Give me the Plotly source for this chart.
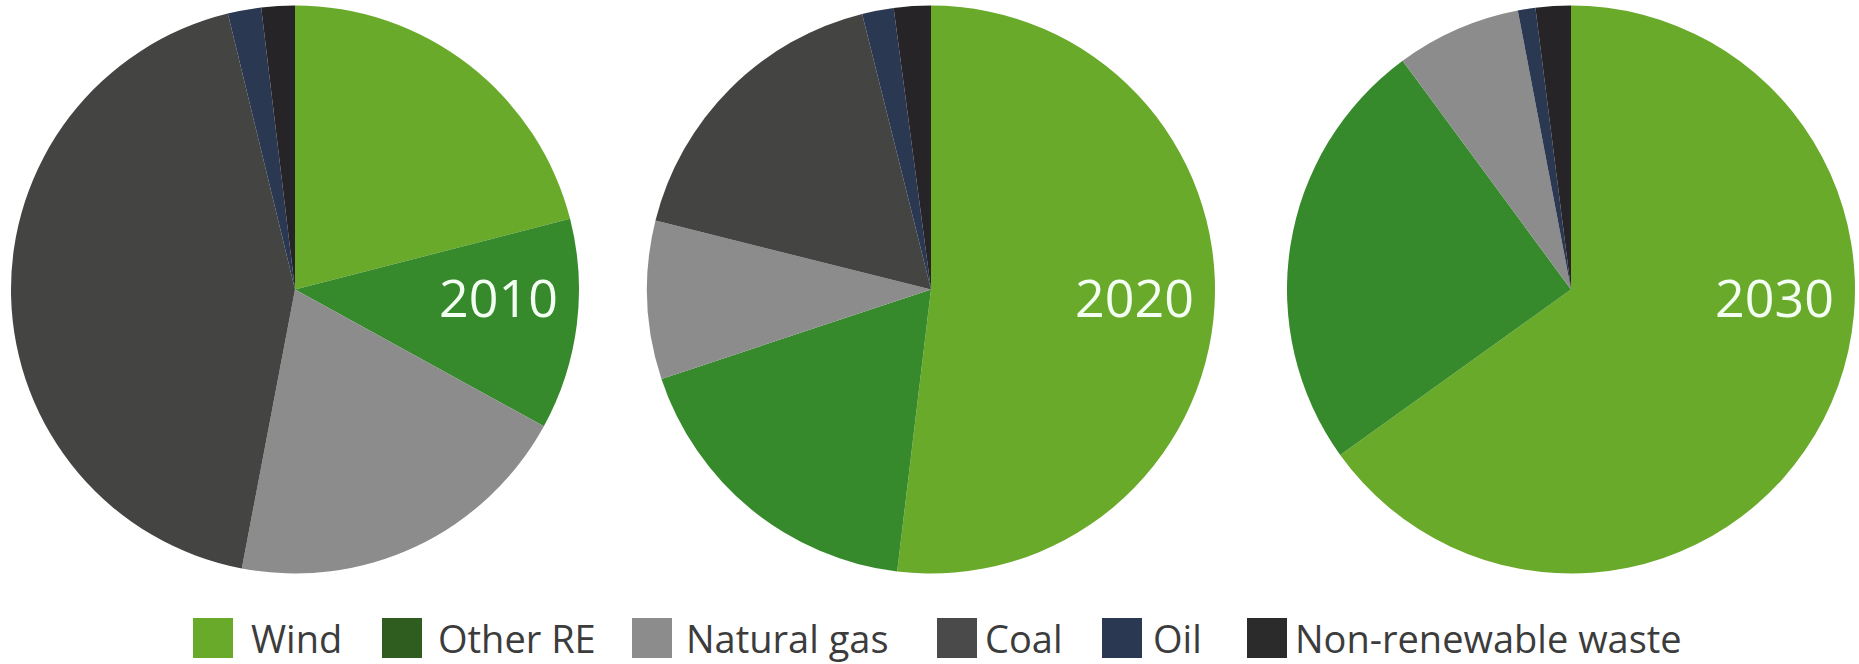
import plotly.graph_objects as go

# Electricity generation mix by source, shares in percent
sources = ["Wind", "Other RE", "Natural gas", "Coal", "Oil", "Non-renewable waste"]
years = ["2010", "2020", "2030"]
share_2010 = [21.0, 12.0, 20.0, 43.2, 1.9, 1.9]
share_2020 = [51.9, 18.0, 9.0, 17.2, 1.8, 2.1]
share_2030 = [65.1, 24.8, 7.1, 0.0, 1.0, 2.0]
shares = [share_2010, share_2020, share_2030]

slice_colors = ["#6aaa2a", "#368a2b", "#8c8c8c", "#444442", "#2b3852", "#262427"]
legend_colors = ["#6aaa2a", "#2f5d1f", "#8c8c8c", "#4a4a4a", "#2b3852", "#2b2b2b"]

W, H = 1859, 664
R = 284
centers_x = [295, 931, 1571]
center_y = 289.5

fig = go.Figure()
for year, vals, cx in zip(years, shares, centers_x):
    fig.add_trace(go.Pie(
        labels=sources,
        values=vals,
        sort=False,
        direction="clockwise",
        rotation=0,
        marker=dict(colors=slice_colors, line=dict(width=0)),
        textinfo="none",
        hoverinfo="label+percent",
        showlegend=False,
        domain=dict(x=[(cx - R) / W, (cx + R) / W],
                    y=[(H - center_y - R) / H, (H - center_y + R) / H]),
    ))
    # year label inside the pie
    fig.add_annotation(
        x=(cx + 203) / W, y=(H - 296) / H, xref="paper", yref="paper",
        text=year, showarrow=False, xanchor="center", yanchor="middle",
        font=dict(family="Open Sans", size=52, color="#f4fff4"),
    )

# Legend row along the bottom
square_x = [193, 382, 632, 937, 1102, 1247]
text_x = [249, 436, 684, 983, 1151, 1293]
sq = 40
legend_cy = 638
for name, col, sx, tx in zip(sources, legend_colors, square_x, text_x):
    fig.add_shape(
        type="rect", xref="paper", yref="paper",
        x0=sx / W, x1=(sx + sq) / W,
        y0=(H - legend_cy - sq / 2) / H, y1=(H - legend_cy + sq / 2) / H,
        fillcolor=col, line=dict(width=0),
    )
    fig.add_annotation(
        x=tx / W, y=(H - legend_cy) / H, xref="paper", yref="paper",
        text=name, showarrow=False, xanchor="left", yanchor="middle",
        font=dict(family="Open Sans", size=38, color="#3c3c3c"),
    )

fig.update_layout(
    width=W, height=H,
    margin=dict(l=0, r=0, t=0, b=0),
    paper_bgcolor="white",
    plot_bgcolor="white",
)

fig.write_html("out.html")
